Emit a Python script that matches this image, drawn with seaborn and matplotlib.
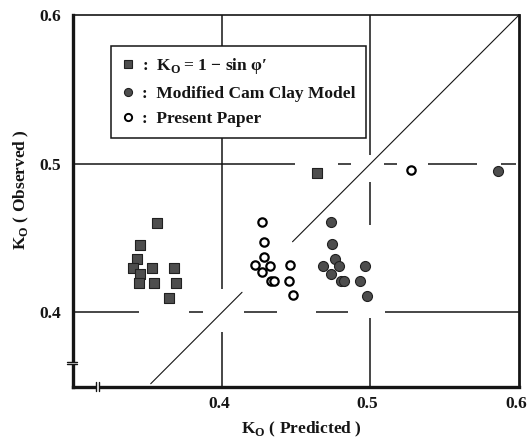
import matplotlib
matplotlib.use("Agg")
import matplotlib.pyplot as plt
import seaborn as sns
import pandas as pd
from matplotlib.transforms import ScaledTranslation, blended_transform_factory
from matplotlib.lines import Line2D

# K0 = 1 - sin(phi')
sin_pred = [0.356, 0.3445, 0.343, 0.340, 0.345, 0.344, 0.353, 0.354, 0.368, 0.369, 0.364, 0.464]
sin_obs = [0.460, 0.445, 0.436, 0.430, 0.426, 0.420, 0.430, 0.420, 0.430, 0.420, 0.410, 0.494]
# Modified Cam Clay model
mcc_pred = [0.4735, 0.474, 0.476, 0.468, 0.479, 0.4735, 0.480, 0.482, 0.493, 0.4965, 0.4975, 0.586]
mcc_obs = [0.461, 0.446, 0.436, 0.431, 0.431, 0.4255, 0.421, 0.421, 0.421, 0.431, 0.411, 0.495]
# Present paper
pp_pred = [0.427, 0.428, 0.428, 0.422, 0.432, 0.427, 0.433, 0.435, 0.446, 0.445, 0.448, 0.527]
pp_obs = [0.461, 0.447, 0.437, 0.432, 0.431, 0.427, 0.421, 0.421, 0.432, 0.421, 0.412, 0.496]

labels = [":  K$_\\mathregular{O}$\u2009= 1 \u2212 sin \u03c6\u2032",
          ":  Modified Cam Clay Model",
          ":  Present Paper"]

x_ticks = [0.4, 0.5, 0.6]
x_minor = [0.35, 0.45, 0.55]
y_ticks = [0.4, 0.5, 0.6]
y_minor = [0.45, 0.55]

# hand-ruled reference lines (broken where they cross the markers)
ref_h = {0.5: [(0.300, 0.449), (0.478, 0.487), (0.509, 0.518), (0.539, 0.572), (0.588, 0.598)],
         0.4: [(0.300, 0.344), (0.378, 0.387), (0.415, 0.437), (0.463, 0.485), (0.510, 0.600)]}
ref_v = {0.4: [(0.416, 0.600), (0.350, 0.387)],
         0.5: [(0.506, 0.600), (0.459, 0.488), (0.350, 0.396)]}
diag = [(0.352, 0.4135), (0.4475, 0.600)]

sns.set_theme(style="white")
plt.rcParams["font.family"] = ["Liberation Serif", "DejaVu Serif"]
plt.rcParams["font.weight"] = "bold"
plt.rcParams["axes.labelweight"] = "bold"

fig = plt.figure(figsize=(5.29, 4.40), dpi=100)
ax = fig.add_axes([0.1389, 0.1211, 0.8422, 0.8448])

ink = "#151515"
for y, segs in ref_h.items():
    ax.hlines([y] * len(segs), [a for a, b in segs], [b for a, b in segs], color=ink, lw=1.1, zorder=1)
for x, segs in ref_v.items():
    ax.vlines([x] * len(segs), [a for a, b in segs], [b for a, b in segs], color=ink, lw=1.1, zorder=1)
for a, b in diag:
    ax.plot([a, b], [a, b], color=ink, lw=0.8, zorder=1)

df_sin = pd.DataFrame({"pred": sin_pred, "obs": sin_obs})
df_mcc = pd.DataFrame({"pred": mcc_pred, "obs": mcc_obs})
df_pp = pd.DataFrame({"pred": pp_pred, "obs": pp_obs})

sns.scatterplot(data=df_sin, x="pred", y="obs", marker="s", s=46, color="#4d4d4d",
                edgecolor="#202020", linewidth=0.8, ax=ax, zorder=3, legend=False)
sns.scatterplot(data=df_mcc, x="pred", y="obs", marker="o", s=52, color="#4d4d4d",
                edgecolor="#202020", linewidth=0.8, ax=ax, zorder=3, legend=False)
sns.scatterplot(data=df_pp, x="pred", y="obs", marker="o", s=36, color="white",
                edgecolor="black", linewidth=1.6, ax=ax, zorder=3, legend=False)

ax.set_xlim(0.3, 0.6)
ax.set_ylim(0.35, 0.6)
ax.set_xticks(x_ticks)
ax.set_xticks(x_minor, minor=True)
ax.set_yticks(y_ticks)
ax.set_yticks(y_minor, minor=True)
ax.set_xticklabels([f"{v:.1f}" for v in x_ticks])
ax.set_yticklabels([f"{v:.1f}" for v in y_ticks])
ax.tick_params(axis="both", which="major", length=0, labelsize=12.5, colors=ink)
ax.tick_params(axis="x", which="major", pad=7)
ax.tick_params(axis="y", which="major", pad=9)
ax.tick_params(axis="both", which="minor", direction="in", length=13.4, width=1.2, color=ink)
for lab in ax.get_xticklabels():
    lab.set_fontweight("bold")
    lab.set_transform(lab.get_transform() + ScaledTranslation(-3 / 100, 0, fig.dpi_scale_trans))
for lab in ax.get_yticklabels():
    lab.set_fontweight("bold")

for side, lw in {"left": 2.4, "bottom": 2.4, "right": 2.0, "top": 1.2}.items():
    ax.spines[side].set_visible(True)
    ax.spines[side].set_linewidth(lw)
    ax.spines[side].set_color(ink)

ax.set_xlabel("K$_\\mathregular{O}$ ( Predicted )", fontsize=12.5, fontweight="bold", color=ink)
ax.set_ylabel("K$_\\mathregular{O}$ ( Observed )", fontsize=12.5, fontweight="bold", color=ink)
ax.xaxis.set_label_coords(0.5107, -0.09)
ax.yaxis.set_label_coords(-0.095, 0.53)

# axis break marks
tb = blended_transform_factory(ax.transData, ax.transAxes)
tl = blended_transform_factory(ax.transAxes, ax.transData)
bx, by = 0.3164, 0.366
gx, gy = 0.0009, 0.0009
ax.plot([bx - gx, bx + gx], [0, 0], transform=tb, color="white", lw=3.5, clip_on=False, zorder=6,
        solid_capstyle="butt")
for d in (-gx, gx):
    ax.plot([bx + d, bx + d], [-0.012, 0.012], transform=tb, color=ink, lw=1.0, clip_on=False, zorder=7)
ax.plot([0, 0], [by - gy, by + gy], transform=tl, color="white", lw=3.5, clip_on=False, zorder=6,
        solid_capstyle="butt")
for d in (-gy, gy):
    ax.plot([-0.014, 0.008], [by + d, by + d], transform=tl, color=ink, lw=1.0, clip_on=False, zorder=7)

handles = [
    Line2D([], [], ls="none", marker="s", ms=5.5, mfc="#4d4d4d", mec="#202020", mew=0.8),
    Line2D([], [], ls="none", marker="o", ms=5.8, mfc="#4d4d4d", mec="#202020", mew=0.8),
    Line2D([], [], ls="none", marker="o", ms=5.2, mfc="white", mec="black", mew=1.4),
]
leg = ax.legend(handles, labels, loc="upper left", bbox_to_anchor=(0.0835, 0.9174),
                borderaxespad=0, fontsize=12.5, frameon=True, fancybox=False, framealpha=1,
                edgecolor=ink, handlelength=0.76, handletextpad=0.4, borderpad=0.62,
                labelspacing=0.52)
leg.get_frame().set_linewidth(1.1)
for t in leg.get_texts():
    t.set_fontweight("bold")
    t.set_color(ink)

fig.savefig("out.png", dpi=100)
